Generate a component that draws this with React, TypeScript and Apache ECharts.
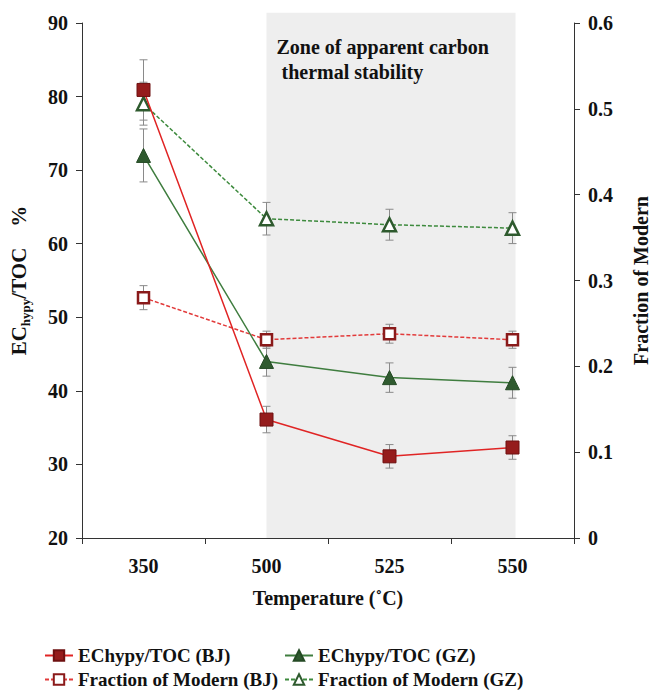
import React, { useEffect, useRef } from "react";
import * as echarts from "echarts";

const categories = ["350", "500", "525", "550"];
const ecBJ = [80.9, 36.1, 31.1, 32.3];
const ecBJErr = [4.1, 1.8, 1.6, 1.6];
const ecGZ = [72.0, 44.0, 41.8, 41.1];
const ecGZErr = [3.6, 2.0, 2.0, 2.1];
const fmBJ = [0.28, 0.231, 0.238, 0.231];
const fmBJErr = [0.014, 0.01, 0.011, 0.01];
const fmGZ = [0.506, 0.372, 0.365, 0.361];
const fmGZErr = [0.025, 0.019, 0.018, 0.018];

const leftTicks = { min: 20, max: 90, interval: 10 };
const rightTicks = { min: 0, max: 0.6, interval: 0.1 };

const FONT = "'Liberation Serif', 'Times New Roman', serif";

const errSeries = (vals: number[], errs: number[], yIdx: number) => ({
  type: "custom",
  yAxisIndex: yIdx,
  z: 1,
  silent: true,
  encode: { x: 0, y: [1, 2] },
  data: vals.map((v, i) => [i, v - errs[i], v + errs[i]]),
  renderItem: (params: any, api: any) => {
    const lo = api.coord([api.value(0), api.value(1)]);
    const hi = api.coord([api.value(0), api.value(2)]);
    const w = 4;
    const st = { stroke: "#8a8a8a", lineWidth: 1 };
    return {
      type: "group",
      children: [
        { type: "line", shape: { x1: lo[0], y1: lo[1], x2: hi[0], y2: hi[1] }, style: st },
        { type: "line", shape: { x1: lo[0] - w, y1: lo[1], x2: lo[0] + w, y2: lo[1] }, style: st },
        { type: "line", shape: { x1: hi[0] - w, y1: hi[1], x2: hi[0] + w, y2: hi[1] }, style: st },
      ],
    };
  },
});

const legendText = { fontFamily: FONT, fontWeight: "bold", fontSize: 19, color: "#111" };

export default function App() {
  const ref = useRef<HTMLDivElement>(null);
  useEffect(() => {
    if (!ref.current) return;
    const chart = echarts.init(ref.current, null, { renderer: "svg" });
    const axisLine = { show: true, lineStyle: { color: "#333", width: 1 } };
    const tickLabel = { fontFamily: FONT, fontWeight: "bold", fontSize: 20, color: "#111" };
    const option: any = {
      animation: false,
      backgroundColor: "#fff",
      grid: { left: 82, right: 83, top: 23, bottom: 152 },
      xAxis: {
        type: "category",
        data: categories,
        boundaryGap: true,
        axisLine,
        axisTick: { show: true, length: 6, lineStyle: { color: "#333" } },
        axisLabel: { ...tickLabel, margin: 18 },
        name: "Temperature (˚C)",
        nameLocation: "middle",
        nameGap: 50,
        nameTextStyle: { fontFamily: FONT, fontWeight: "bold", fontSize: 20, color: "#111" },
        splitLine: { show: false },
      },
      yAxis: [
        {
          type: "value",
          ...leftTicks,
          position: "left",
          axisLine,
          axisTick: { show: true, length: 6, lineStyle: { color: "#333" } },
          axisLabel: { ...tickLabel, margin: 14 },
          splitLine: { show: false },
          name: "{a|EC}{s|hypy}{a|/TOC    %}",
          nameLocation: "middle",
          nameGap: 50,
          nameTextStyle: {
            rich: {
              a: { fontFamily: FONT, fontWeight: "bold", fontSize: 21, color: "#111", lineHeight: 26 },
              s: { fontFamily: FONT, fontWeight: "bold", fontSize: 13, color: "#111", verticalAlign: "bottom", lineHeight: 26, padding: [8, 0, 0, 0] },
            },
          },
        },
        {
          type: "value",
          ...rightTicks,
          position: "right",
          axisLine,
          axisTick: { show: true, length: 6, lineStyle: { color: "#333" } },
          axisLabel: { ...tickLabel, margin: 14 },
          splitLine: { show: false },
          name: "Fraction of Modern",
          nameLocation: "middle",
          nameRotate: 90,
          nameGap: 57,
          nameTextStyle: { fontFamily: FONT, fontWeight: "bold", fontSize: 20, color: "#111" },
        },
      ],
      legend: [
        { left: 44, top: 646, data: ["EChypy/TOC (BJ)"] },
        { left: 284, top: 646, data: ["EChypy/TOC (GZ)"] },
        { left: 44, top: 670, data: ["Fraction of Modern (BJ)"] },
        { left: 284, top: 670, data: ["Fraction of Modern (GZ)"] },
      ].map((l) => ({
        ...l,
        padding: 0,
        itemWidth: 28,
        itemHeight: 13,
        itemGap: 4,
        textStyle: legendText,
      })),
      series: [
        errSeries(ecBJ, ecBJErr, 0),
        errSeries(ecGZ, ecGZErr, 0),
        errSeries(fmBJ, fmBJErr, 1),
        errSeries(fmGZ, fmGZErr, 1),
        {
          name: "Fraction of Modern (BJ)",
          type: "line",
          yAxisIndex: 1,
          z: 3,
          data: fmBJ,
          symbol: "rect",
          symbolSize: 11,
          lineStyle: { color: "#e23a3a", width: 1.5, type: [4, 2] },
          itemStyle: { color: "#fff", borderColor: "#8a1a1a", borderWidth: 2.5 },
        },
        {
          name: "Fraction of Modern (GZ)",
          type: "line",
          yAxisIndex: 1,
          z: 3,
          data: fmGZ,
          symbol: "triangle",
          symbolSize: 13,
          lineStyle: { color: "#3d8a3d", width: 1.5, type: [4, 2] },
          itemStyle: { color: "#fff", borderColor: "#2e5a2e", borderWidth: 2.5 },
        },
        {
          name: "EChypy/TOC (GZ)",
          type: "line",
          yAxisIndex: 0,
          z: 4,
          data: ecGZ,
          symbol: "triangle",
          symbolSize: 14,
          lineStyle: { color: "#3f7d3f", width: 1.5 },
          itemStyle: { color: "#2f5a2f", borderColor: "#244a24", borderWidth: 1 },
        },
        {
          name: "EChypy/TOC (BJ)",
          type: "line",
          yAxisIndex: 0,
          z: 4,
          data: ecBJ,
          symbol: "rect",
          symbolSize: 13,
          lineStyle: { color: "#e02424", width: 1.5 },
          itemStyle: { color: "#951c1c", borderColor: "#6e1010", borderWidth: 1 },
        },
      ],
    };
    chart.setOption(option);
    const p1 = chart.convertToPixel({ xAxisIndex: 0, yAxisIndex: 0 }, ["500", 91.4]);
    const p2 = chart.convertToPixel({ xAxisIndex: 0, yAxisIndex: 0 }, ["550", 20]);
    chart.setOption({
      graphic: [
        {
          type: "rect",
          z: -1,
          silent: true,
          shape: { x: p1[0], y: p1[1], width: p2[0] - p1[0] + 3, height: p2[1] - p1[1] },
          style: { fill: "#eeeeee" },
        },
        {
          type: "text",
          x: p1[0] + 10,
          y: p1[1] + 22,
          z: 5,
          style: {
            text: "Zone of apparent carbon\n thermal stability",
            fontFamily: FONT,
            fontWeight: "bold",
            fontSize: 20,
            lineHeight: 25,
            fill: "#111",
          },
        },
      ],
    });
    return () => chart.dispose();
  }, []);
  return <div ref={ref} style={{ width: 659, height: 690, position: "absolute", left: 0, top: 0 }} />;
}
